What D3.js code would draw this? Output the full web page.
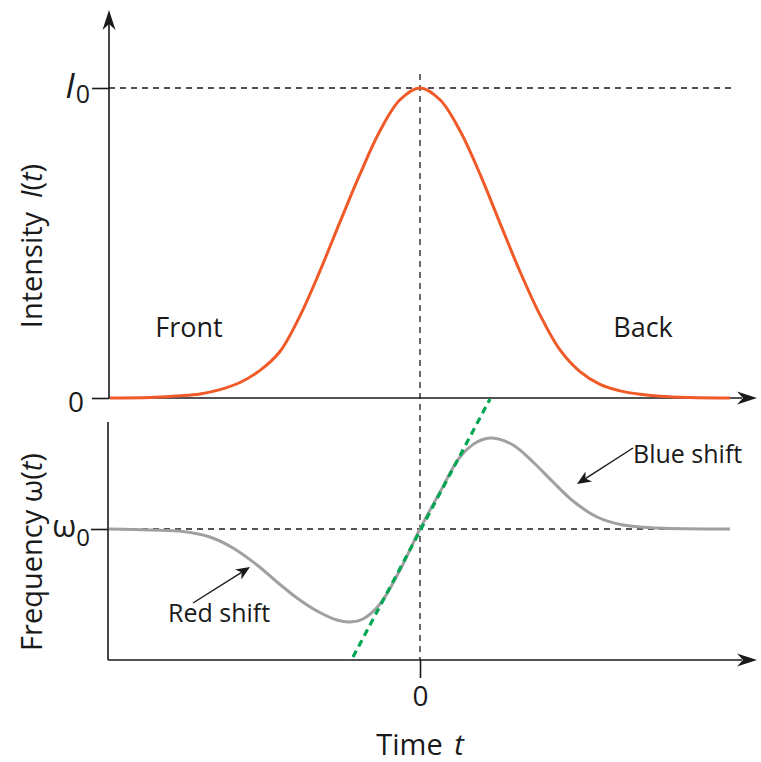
<!DOCTYPE html>
<html>
<head>
<meta charset="utf-8">
<script src="https://cdn.jsdelivr.net/npm/d3@7"></script>
<style>
  html, body { margin: 0; padding: 0; background: #fff; }
  svg { display: block; }
  text { font-family: "Open Sans", "Noto Sans", sans-serif; fill: #1a1a1a; }
</style>
</head>
<body>
<script>
// Pulse intensity envelope I(t), normalised to I0 = 1
const timeI = [-3.10, -2.70, -2.40, -2.20, -2.00, -1.80, -1.60, -1.40, -1.20, -1.00, -0.80, -0.60, -0.40, -0.20, 0,
               0.20, 0.40, 0.60, 0.80, 1.00, 1.20, 1.40, 1.60, 1.80, 2.00, 2.20, 2.40, 2.70, 3.10];
const intensity = [0, 0.002, 0.007, 0.013, 0.027, 0.050, 0.089, 0.150, 0.265, 0.410, 0.568, 0.722, 0.862, 0.962, 1,
                   0.962, 0.862, 0.722, 0.564, 0.408, 0.268, 0.155, 0.085, 0.044, 0.023, 0.012, 0.006, 0.002, 0];

// Instantaneous frequency shift ω(t) − ω0
const timeW = [-3.11, -2.70, -2.37, -2.10, -1.87, -1.63, -1.43, -1.23, -1.03, -0.83, -0.70, -0.57, -0.40, -0.20, 0,
               0.20, 0.40, 0.57, 0.72, 0.93, 1.13, 1.33, 1.53, 1.77, 2.03, 2.37, 3.10];
const freqShift = [0, -0.01, -0.025, -0.08, -0.19, -0.36, -0.53, -0.69, -0.82, -0.91, -0.93, -0.90, -0.75, -0.41, 0,
                   0.37, 0.72, 0.87, 0.91, 0.84, 0.67, 0.47, 0.28, 0.12, 0.04, 0.01, 0];

// Linear chirp near the pulse centre
const chirpT = [-0.67, 0.70];
const chirpV = [-1.28, 1.30];

// Tick values
const intensityTicks = [0, 1];
const freqTicks = [0];
const timeTicks = [0];

const W = 761, H = 762;
const svg = d3.select("body").append("svg").attr("width", W).attr("height", H);

const x = d3.scaleLinear().domain([-3.11, 3.35]).range([109, 755]);
const yI = d3.scaleLinear().domain([0, 1]).range([398, 88]);
const yW = d3.scaleLinear().domain([-1, 1]).range([629, 429]);

const ink = "#1a1a1a";

// Stealth-style arrow head pointing from (x0,y0) towards (x1,y1), tip at (x1,y1)
function arrowHead(g, x0, y0, x1, y1, len, half, notch) {
  const a = Math.atan2(y1 - y0, x1 - x0);
  const c = Math.cos(a), s = Math.sin(a);
  const p = (u, v) => [x1 + u * c - v * s, y1 + u * s + v * c];
  const pts = [p(0, 0), p(-len, -half), p(-len + notch, 0), p(-len, half)];
  g.append("path").attr("d", "M" + pts.map(q => q.join(",")).join("L") + "Z").attr("fill", ink);
}

const axes = svg.append("g");

// ---- Upper panel: intensity ----
axes.append("line").attr("x1", x(-3.11)).attr("x2", x(-3.11)).attr("y1", yI(0)).attr("y2", 24)
  .attr("stroke", ink).attr("stroke-width", 1.6);
arrowHead(axes, x(-3.11), 100, x(-3.11), 10, 20, 6.5, 6);
axes.append("line").attr("x1", x(-3.11)).attr("x2", 742).attr("y1", yI(0)).attr("y2", yI(0))
  .attr("stroke", ink).attr("stroke-width", 1.6);
arrowHead(axes, 700, yI(0), 757, yI(0), 20, 6.5, 6);

const yAxisI = d3.axisLeft(yI).tickValues(intensityTicks).tickSize(17).tickFormat("");
const gI = axes.append("g").attr("transform", `translate(${x(-3.11)},0)`).call(yAxisI);
gI.select(".domain").remove();
gI.selectAll(".tick line").attr("stroke", ink).attr("stroke-width", 1.6);

// ---- Lower panel: frequency ----
axes.append("line").attr("x1", x(-3.12)).attr("x2", x(-3.12)).attr("y1", 422).attr("y2", 660)
  .attr("stroke", ink).attr("stroke-width", 1.6);
axes.append("line").attr("x1", x(-3.12)).attr("x2", 742).attr("y1", 660).attr("y2", 660)
  .attr("stroke", ink).attr("stroke-width", 1.6);
arrowHead(axes, 700, 660, 757, 660, 20, 6.5, 6);

const yAxisW = d3.axisLeft(yW).tickValues(freqTicks).tickSize(17).tickFormat("");
const gW = axes.append("g").attr("transform", `translate(${x(-3.12)},0)`).call(yAxisW);
gW.select(".domain").remove();
gW.selectAll(".tick line").attr("stroke", ink).attr("stroke-width", 1.6);

const xAxis = d3.axisBottom(x).tickValues(timeTicks).tickSize(18).tickPadding(8).tickFormat(d3.format("d"));
const gX = axes.append("g").attr("transform", "translate(0,660)").call(xAxis);
gX.select(".domain").remove();
gX.selectAll(".tick line").attr("stroke", ink).attr("stroke-width", 1.6);
gX.selectAll(".tick text").attr("font-size", 28).attr("fill", ink)
  .style("font-family", '"Open Sans", sans-serif');

// ---- Reference dashed lines ----
const dash = svg.append("g").attr("stroke", ink).attr("stroke-width", 1.3).attr("stroke-dasharray", "6,5").attr("fill", "none");
dash.append("line").attr("x1", x(0)).attr("x2", x(0)).attr("y1", 74).attr("y2", 660);
dash.append("line").attr("x1", x(-3.11)).attr("x2", x(3.14)).attr("y1", yI(1)).attr("y2", yI(1));
dash.append("line").attr("x1", x(-3.11)).attr("x2", x(3.10)).attr("y1", yW(0)).attr("y2", yW(0));

// ---- Curves ----
const smooth = d3.curveCatmullRom.alpha(0.5);
const lineI = d3.line().x((d, i) => x(timeI[i])).y(d => yI(d)).curve(smooth);
svg.append("path").datum(intensity).attr("d", lineI)
  .attr("fill", "none").attr("stroke", "#f05a28").attr("stroke-width", 3);

const lineW = d3.line().x((d, i) => x(timeW[i])).y(d => yW(d)).curve(smooth);
svg.append("path").datum(freqShift).attr("d", lineW)
  .attr("fill", "none").attr("stroke", "#a0a0a0").attr("stroke-width", 3);

const lineC = d3.line().x((d, i) => x(chirpT[i])).y(d => yW(d));
svg.append("path").datum(chirpV).attr("d", lineC)
  .attr("fill", "none").attr("stroke", "#00a651").attr("stroke-width", 3.2).attr("stroke-dasharray", "7,5");

// ---- Tick labels ----
const lbl = svg.append("g").attr("font-size", 29);
const i0 = lbl.append("text").attr("x", 90).attr("y", yI(1) + 10).attr("text-anchor", "end");
i0.append("tspan").attr("font-style", "italic").attr("font-size", 35).text("I");
i0.append("tspan").attr("dy", 5).attr("dx", 1).attr("font-size", 25).text("0");
lbl.append("text").attr("x", 84).attr("y", yI(0) + 14).attr("text-anchor", "end").attr("font-size", 28).text("0");
const w0 = lbl.append("text").attr("x", 90).attr("y", yW(0) + 8).attr("text-anchor", "end");
w0.append("tspan").attr("font-size", 31).text("ω");
w0.append("tspan").attr("dy", 9).attr("font-size", 24).text("0");

// ---- Axis titles ----
const tI = lbl.append("text").attr("transform", "translate(42,246) rotate(-90)").attr("text-anchor", "middle");
tI.append("tspan").text("Intensity ");
tI.append("tspan").attr("dx", 6).attr("font-style", "italic").text("I");
tI.append("tspan").text("(");
tI.append("tspan").attr("font-style", "italic").text("t");
tI.append("tspan").text(")");

const tW = lbl.append("text").attr("transform", "translate(42,552) rotate(-90)").attr("text-anchor", "middle");
tW.append("tspan").text("Frequency ω(");
tW.append("tspan").attr("font-style", "italic").text("t");
tW.append("tspan").text(")");

const tT = lbl.append("text").attr("x", x(0)).attr("y", 755).attr("text-anchor", "middle");
tT.append("tspan").text("Time ");
tT.append("tspan").attr("dx", 4).attr("font-style", "italic").text("t");

// ---- Annotations ----
const ann = svg.append("g").attr("font-size", 27);
ann.append("text").attr("x", x(-2.31)).attr("y", 337).attr("text-anchor", "middle").text("Front");
ann.append("text").attr("x", x(2.23)).attr("y", 337).attr("text-anchor", "middle").text("Back");
ann.append("text").attr("x", x(2.13)).attr("y", 463).attr("font-size", 25).text("Blue shift");
ann.append("text").attr("x", x(-2.52)).attr("y", 622).attr("font-size", 25).text("Red shift");

function pointer(t0, v0, t1, v1) {
  const ax0 = x(t0), ay0 = yW(v0), ax1 = x(t1), ay1 = yW(v1);
  const a = Math.atan2(ay1 - ay0, ax1 - ax0);
  ann.append("line").attr("x1", ax0).attr("y1", ay0)
    .attr("x2", ax1 - 10 * Math.cos(a)).attr("y2", ay1 - 10 * Math.sin(a))
    .attr("stroke", ink).attr("stroke-width", 1.4);
  arrowHead(ann, ax0, ay0, ax1, ay1, 14, 6, 4);
}
pointer(2.13, 0.81, 1.57, 0.45);
pointer(-2.27, -0.74, -1.70, -0.38);
</script>
</body>
</html>
